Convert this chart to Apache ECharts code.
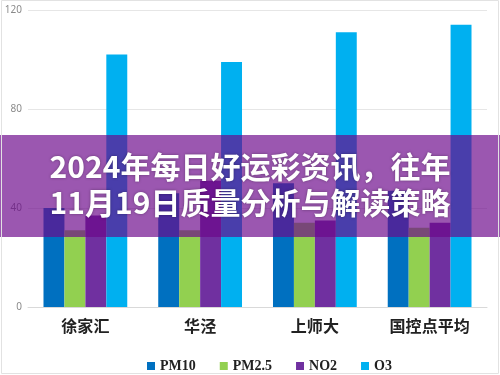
<!DOCTYPE html>
<html>
<head>
<meta charset="utf-8">
<script src="https://cdn.jsdelivr.net/npm/echarts@6/dist/echarts.min.js"></script>
<style>
html,body{margin:0;padding:0;background:#fff;}
#c{width:500px;height:375px;}
</style>
</head>
<body>
<div id="c"></div>
<script>
var categories = ['徐家汇', '华泾', '上师大', '国控点平均'];
var seriesNames = ['PM10', 'PM2.5', 'NO2', 'O3'];
var pm10 = [40, 46, 50, 47];
var pm25 = [31, 31, 34, 32];
var no2 = [37, 51, 35, 34];
var o3 = [102, 99, 111, 114];
var yTicks = [0, 40, 80, 120];
var titleLine1 = '2024年每日好运彩资讯，往年';
var titleLine2 = '11月19日质量分析与解读策略';

var colors = ['#0070C0', '#92D050', '#7030A0', '#00B0F0'];
var values = [pm10, pm25, no2, o3];

var chart = echarts.init(document.getElementById('c'), null, {renderer: 'canvas'});
var option = {
  animation: false,
  backgroundColor: '#ffffff',
  grid: {left: 28, right: 13, top: 10, bottom: 68, containLabel: false},
  legend: {
    left: 142, top: 354,
    itemWidth: 8, itemHeight: 8, itemGap: 24,
    icon: 'rect',
    textStyle: {fontFamily: 'Liberation Serif', fontWeight: 'bold', fontSize: 14, color: '#222'},
    data: seriesNames
  },
  xAxis: {
    type: 'category',
    data: categories,
    axisTick: {show: false},
    axisLine: {lineStyle: {color: '#d9d9d9'}},
    axisLabel: {fontFamily: 'Noto Sans CJK SC', fontWeight: 'bold', fontSize: 16, color: '#222', margin: 11}
  },
  yAxis: {
    type: 'value',
    min: yTicks[0], max: yTicks[yTicks.length - 1], interval: 40,
    axisLine: {show: false}, axisTick: {show: false},
    splitLine: {lineStyle: {color: '#e6e6e6'}},
    axisLabel: {color: '#8a8a8a', fontSize: 10, margin: 6, fontFamily: 'Noto Sans'}
  },
  series: seriesNames.map(function (n, i) {
    return {
      name: n, type: 'bar', data: values[i],
      itemStyle: {color: colors[i]},
      barGap: '0%', barCategoryGap: '27%'
    };
  }),
  graphic: [
    {type: 'rect', z: 100, shape: {x: 0, y: 135, width: 500, height: 102},
     style: {fill: 'rgba(108,8,138,0.68)'}},
    {type: 'text', z: 101, left: 'center', top: 152,
     style: {text: titleLine1, fill: '#fff', font: 'bold 30px "Noto Sans CJK SC"',
       textShadowColor: 'rgba(0,0,0,0.35)', textShadowBlur: 3}},
    {type: 'text', z: 101, left: 'center', top: 188,
     style: {text: titleLine2, fill: '#fff', font: 'bold 30px "Noto Sans CJK SC"',
       textShadowColor: 'rgba(0,0,0,0.35)', textShadowBlur: 3}},
    {type: 'rect', z: 102, silent: true, shape: {x: 1.5, y: 0.5, width: 497, height: 373},
     style: {fill: null, stroke: '#e2e2e2', lineWidth: 1}}
  ]
};
chart.setOption(option);
</script>
</body>
</html>
